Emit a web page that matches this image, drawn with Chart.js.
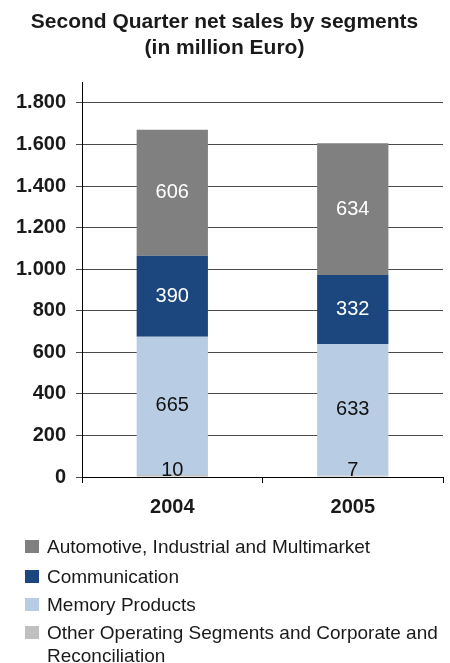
<!DOCTYPE html>
<html>
<head>
<meta charset="utf-8">
<script src="https://cdn.jsdelivr.net/npm/chart.js@4"></script>
<style>
  html, body { margin: 0; padding: 0; background: #fff; }
  #wrap { position: relative; width: 450px; height: 663px; }
  #c { position: absolute; left: 0; top: 0; }
  .lg { position: absolute; left: 25px; font: 19px "Liberation Sans", Arial, sans-serif; color: #1a1a1a; line-height: 23px; }
  .lg .sw { position: absolute; left: 0; width: 14px; height: 13px; top: 5px; }
  .lg .tx { position: absolute; left: 22px; top: 0; width: 410px; white-space: nowrap; }
</style>
</head>
<body>
<div id="wrap">
  <canvas id="c" width="450" height="545"></canvas>
  <div id="legend"></div>
</div>
<script>
const categories = ["2004", "2005"];
const otherSegments = [10, 7];
const memoryProducts = [665, 633];
const communication = [390, 332];
const automotive = [606, 634];
const yTickValues = [0, 200, 400, 600, 800, 1000, 1200, 1400, 1600, 1800];
const titleLines = ["Second Quarter net sales by segments", "(in million Euro)"];
const seriesNames = {
  other: "Other Operating Segments and Corporate and\nReconciliation",
  memory: "Memory Products",
  comm: "Communication",
  auto: "Automotive, Industrial and Multimarket"
};

const FONT = '"Liberation Sans", Arial, sans-serif';

const labelPlugin = {
  id: 'segLabels',
  afterDatasetsDraw(chart) {
    const ctx = chart.ctx;
    ctx.save();
    ctx.font = '20px ' + FONT;
    ctx.textAlign = 'center';
    chart.data.datasets.forEach((ds, di) => {
      const meta = chart.getDatasetMeta(di);
      meta.data.forEach((bar, i) => {
        const v = ds.data[i];
        ctx.fillStyle = ds.labelColor;
        if (ds.smallLabel) {
          ctx.textBaseline = 'bottom';
          ctx.fillText(String(v), bar.x, bar.base + 4);
        } else {
          ctx.textBaseline = 'middle';
          ctx.fillText(String(v), bar.x, (bar.y + bar.base) / 2);
        }
      });
    });
    ctx.restore();
  }
};

const chart = new Chart(document.getElementById('c'), {
  type: 'bar',
  data: {
    labels: categories,
    datasets: [
      { label: seriesNames.other, data: otherSegments, backgroundColor: '#c0c0c0', labelColor: '#111', smallLabel: true },
      { label: seriesNames.memory, data: memoryProducts, backgroundColor: '#b8cce4', labelColor: '#111' },
      { label: seriesNames.comm, data: communication, backgroundColor: '#1c477e', labelColor: '#ffffff' },
      { label: seriesNames.auto, data: automotive, backgroundColor: '#808080', labelColor: '#ffffff' }
    ]
  },
  options: {
    responsive: false,
    animation: false,
    devicePixelRatio: 1,
    categoryPercentage: 1,
    barPercentage: 0.395,
    layout: { padding: { left: 6, right: 7, top: 0, bottom: 14 } },
    plugins: {
      legend: { display: false },
      tooltip: { enabled: false },
      title: {
        display: true,
        text: titleLines,
        color: '#1a1a1a',
        font: { family: FONT, size: 21, weight: 'bold', lineHeight: 1.24 },
        padding: { top: 9, bottom: 21 }
      }
    },
    scales: {
      x: {
        stacked: true,
        offset: true,
        grid: { display: true, drawOnChartArea: false, drawTicks: true, tickLength: 6, color: '#000', offset: true },
        border: { display: true, color: '#000', width: 1 },
        ticks: { color: '#1a1a1a', font: { family: FONT, size: 20, weight: 'bold' }, padding: 12 }
      },
      y: {
        stacked: true,
        min: 0,
        max: 1900,
        afterBuildTicks(scale) {
          scale.ticks = yTickValues.map(v => ({ value: v }));
        },
        grid: { color: '#4a4a4a', lineWidth: 1, tickLength: 6 },
        border: { display: true, color: '#000', width: 1 },
        ticks: {
          color: '#1a1a1a',
          font: { family: FONT, size: 20, weight: 'bold' },
          padding: 10,
          callback: (v) => String(v).replace(/\B(?=(\d{3})+(?!\d))/g, '.')
        }
      }
    }
  },
  plugins: [labelPlugin]
});

// HTML legend built from the chart's datasets (reverse order, top series first)
const legendEl = document.getElementById('legend');
const tops = [535, 565, 593, 621];
chart.data.datasets.slice().reverse().forEach((ds, k) => {
  const item = document.createElement('div');
  item.className = 'lg';
  item.style.top = tops[k] + 'px';
  const sw = document.createElement('div');
  sw.className = 'sw';
  sw.style.background = ds.backgroundColor;
  const tx = document.createElement('div');
  tx.className = 'tx';
  tx.innerHTML = ds.label.split('\n').map(s => s.replace(/&/g, '&amp;')).join('<br>');
  item.appendChild(sw);
  item.appendChild(tx);
  legendEl.appendChild(item);
});
</script>
</body>
</html>
